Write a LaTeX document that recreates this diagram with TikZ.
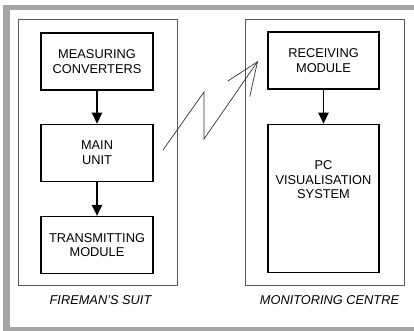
\documentclass[tikz,border=0pt]{standalone}
\usepackage{fontspec}
\setmainfont{Liberation Sans}
\usetikzlibrary{arrows.meta,positioning}

\begin{document}
\begin{tikzpicture}[
    x=1pt, y=-1pt,
    font=\fontsize{12.8}{14.5}\selectfont,
    unit/.style={draw, line width=1.2pt, align=center, minimum width=112pt, minimum height=57pt, inner sep=2pt},
    group/.style={draw=black!65, line width=0.9pt, minimum width=159pt, minimum height=266pt, inner sep=0pt},
    flow/.style={-{Triangle[length=11pt,width=10.5pt]}, line width=1.2pt},
    caption/.style={font=\fontsize{12.8}{14.5}\selectfont\itshape, inner sep=0pt},
    link/.style={draw=black!80, line width=0.7pt, -{Straight Barb[length=33pt,width=27pt]}}
]
\useasboundingbox (0,0) rectangle (414,331);
\fill[black!35] (3,5) rectangle (414,331);
\fill[white] (10,10) rectangle (414,327);

% the two groups
\node[group] (suit) at (97.5,152) {};
\node[group] (centre) at (324.5,152) {};
\node[caption, below=10pt of suit, xshift=3pt] (suitcap) {FIREMAN'S SUIT};
\node[caption, below=10pt of centre, xshift=5pt] (centrecap) {MONITORING CENTRE};

% fireman's suit
\node[unit] (meas) at (97,61.5) {MEASURING\\CONVERTERS};
\node[unit, below=33pt of meas] (main) {MAIN\\UNIT};
\node[unit, below=34pt of main] (trans) {TRANSMITTING\\MODULE};
\draw[flow] (meas) -- (main);
\draw[flow] (main) -- (trans);

% monitoring centre
\node[unit, minimum width=111pt] (recv) at (323.5,60.5) {RECEIVING\\MODULE};
\node[unit, minimum width=111pt, minimum height=148pt, below=34pt of recv] (pc) {PC\\VISUALISATION\\SYSTEM\\[22pt]~};
\draw[flow] (recv) -- (pc);

% radio link
\coordinate (z0) at (163,150);
\coordinate (z1) at (204,92);
\coordinate (z2) at (204,139);
\coordinate (z3) at (258,61);
\draw[link] (z0) -- (z1) -- (z2) -- (z3);
\end{tikzpicture}
\end{document}
